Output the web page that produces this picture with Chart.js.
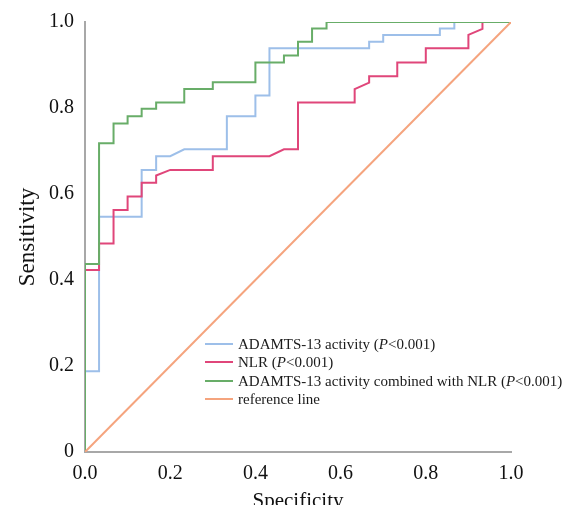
<!DOCTYPE html>
<html>
<head>
<meta charset="utf-8">
<script src="https://cdn.jsdelivr.net/npm/chart.js@4/dist/chart.umd.min.js"></script>
<style>
  html, body { margin: 0; padding: 0; background: #fff; }
  #wrap { position: relative; width: 581px; height: 505px; }
  #legend { position: absolute; left: 205px; top: 335px; font-family: "Liberation Serif", "Times New Roman", serif; font-size: 15px; color: #1a1a1a; }
  .row { height: 18.3px; line-height: 18.3px; white-space: nowrap; display: flex; align-items: center; }
  .sw { display: inline-block; width: 28px; height: 2px; margin-right: 5px; }
</style>
</head>
<body>
<div id="wrap">
  <canvas id="c" width="581" height="505"></canvas>
  <div id="legend"></div>
</div>
<script>
// Series labels (HTML so "P" can be italic)
const seriesNames = [
  'ADAMTS-13 activity (<i>P</i>&lt;0.001)',
  'NLR (<i>P</i>&lt;0.001)',
  'ADAMTS-13 activity combined with NLR (<i>P</i>&lt;0.001)',
  'reference line'
];
const seriesColors = ['#9dbfe9', '#e0467a', '#68ad68', '#f5a47e'];

// ROC coordinates (x = 1 - specificity axis, y = sensitivity)
const adamtsX = [0, 0, 0.033, 0.033, 0.133, 0.133, 0.167, 0.167, 0.2, 0.233, 0.333, 0.333, 0.4, 0.4, 0.433, 0.433, 0.667, 0.667, 0.7, 0.7, 0.833, 0.833, 0.867, 0.867, 1];
const adamtsY = [0, 0.188, 0.188, 0.547, 0.547, 0.656, 0.656, 0.688, 0.688, 0.704, 0.704, 0.781, 0.781, 0.829, 0.829, 0.939, 0.939, 0.954, 0.954, 0.970, 0.970, 0.985, 0.985, 1, 1];

const nlrX = [0, 0, 0.033, 0.033, 0.067, 0.067, 0.1, 0.1, 0.133, 0.133, 0.167, 0.167, 0.2, 0.3, 0.3, 0.433, 0.467, 0.5, 0.5, 0.633, 0.633, 0.667, 0.667, 0.733, 0.733, 0.8, 0.8, 0.9, 0.9, 0.933, 0.933, 1];
const nlrY = [0, 0.423, 0.423, 0.485, 0.485, 0.563, 0.563, 0.594, 0.594, 0.626, 0.626, 0.643, 0.656, 0.656, 0.688, 0.688, 0.704, 0.704, 0.813, 0.813, 0.844, 0.859, 0.874, 0.874, 0.906, 0.906, 0.939, 0.939, 0.970, 0.984, 1, 1];

const combX = [0, 0, 0.033, 0.033, 0.067, 0.067, 0.1, 0.1, 0.133, 0.133, 0.167, 0.167, 0.233, 0.233, 0.3, 0.3, 0.4, 0.4, 0.467, 0.467, 0.5, 0.5, 0.533, 0.533, 0.567, 0.567, 1];
const combY = [0, 0.437, 0.437, 0.718, 0.718, 0.764, 0.764, 0.781, 0.781, 0.798, 0.798, 0.813, 0.813, 0.844, 0.844, 0.860, 0.860, 0.906, 0.906, 0.922, 0.922, 0.954, 0.954, 0.985, 0.985, 1, 1];

const refX = [0, 1];
const refY = [0, 1];

const tickValues = [0, 0.2, 0.4, 0.6, 0.8, 1.0];

function pts(xs, ys) { return xs.map((x, i) => ({ x: x, y: ys[i] })); }

const seriesData = [pts(adamtsX, adamtsY), pts(nlrX, nlrY), pts(combX, combY), pts(refX, refY)];

// HTML legend
const leg = document.getElementById('legend');
seriesNames.forEach((n, i) => {
  const r = document.createElement('div');
  r.className = 'row';
  r.innerHTML = '<span class="sw" style="background:' + seriesColors[i] + '"></span><span>' + n + '</span>';
  leg.appendChild(r);
});

const serif = '"Liberation Serif", "Times New Roman", serif';
const drawOrder = [3, 2, 1, 0]; // reference line on top

new Chart(document.getElementById('c'), {
  type: 'line',
  data: {
    datasets: seriesData.map((d, i) => ({
      label: seriesNames[i].replace(/<[^>]+>/g, '').replace('&lt;', '<'),
      data: d,
      borderColor: seriesColors[i],
      borderWidth: 2,
      pointRadius: 0,
      tension: 0,
      fill: false,
      order: drawOrder[i]
    }))
  },
  options: {
    responsive: false,
    animation: false,
    layout: { padding: { left: 0, right: 70, top: 22, bottom: 0 } },
    plugins: { legend: { display: false }, tooltip: { enabled: false } },
    scales: {
      x: {
        type: 'linear', min: 0, max: 1,
        afterBuildTicks: s => { s.ticks = tickValues.map(v => ({ value: v })); },
        afterFit: s => { s.height = 53; },
        grid: { display: false },
        border: { display: true, color: '#a8a8a8', width: 2 },
        ticks: { color: '#111', font: { family: serif, size: 20 }, padding: 2, maxRotation: 0,
                 callback: v => Number(v).toFixed(1) },
        title: { display: true, text: 'Specificity', color: '#111', font: { family: serif, size: 21 }, padding: { top: 0, bottom: -9 } }
      },
      y: {
        type: 'linear', min: 0, max: 1,
        afterBuildTicks: s => { s.ticks = tickValues.map(v => ({ value: v })); },
        afterFit: s => { s.width = 85; },
        grid: { display: false },
        border: { display: true, color: '#a8a8a8', width: 2 },
        ticks: { color: '#111', font: { family: serif, size: 20 }, padding: 3,
                 callback: v => (v === 0 ? '0' : Number(v).toFixed(1)) },
        title: { display: true, text: 'Sensitivity', color: '#111', font: { family: serif, size: 23 }, padding: { top: 14, bottom: 0 } }
      }
    }
  }
});
</script>
</body>
</html>
